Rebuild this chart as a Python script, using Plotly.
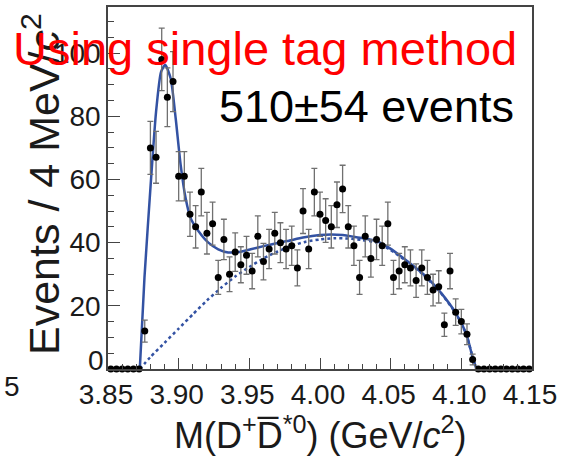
import plotly.graph_objects as go

# ---- data ----
bin_centers = [round(3.852 + 0.004 * i, 3) for i in range(75)]
counts = [0, 0, 0, 0, 0, 0,
          12, 70, 67, 98, 86, 91, 61, 61, 49, 45, 56, 43, 46, 29, 41, 30, 37, 33, 36, 31,
          42, 34, 38, 43, 40, 38, 39, 32, 50, 38, 56, 49, 47, 45, 52, 57, 45, 39, 29, 42,
          35, 41, 39, 46, 29, 31, 33, 32, 28, 32, 29, 25, 26, 14, 31, 18, 15, 11, 3,
          0, 0, 0, 0, 0, 0, 0, 0, 0, 0]
errors = [0, 0, 0, 0, 0, 0,
          3.5, 8.4, 8.2, 9.9, 9.3, 9.5, 7.8, 7.8, 7.0, 6.7, 7.5, 6.6, 6.8, 5.4, 6.4, 5.5, 6.1, 5.7, 6.0, 5.6,
          6.5, 5.8, 6.2, 6.6, 6.3, 6.2, 6.2, 5.7, 7.1, 6.2, 7.5, 7.0, 6.9, 6.7, 7.2, 7.5, 6.7, 6.2, 5.4, 6.5,
          5.9, 6.4, 6.2, 6.8, 5.4, 5.6, 5.7, 5.7, 5.3, 5.7, 5.4, 5.0, 5.1, 3.7, 5.6, 4.2, 3.9, 3.3, 1.7,
          0, 0, 0, 0, 0, 0, 0, 0, 0, 0]

fit_x = [3.8725, 3.8758, 3.8805, 3.8840, 3.8875, 3.8905, 3.8944, 3.8979, 3.9014, 3.9049,
         3.9084, 3.9142, 3.9210, 3.9280, 3.9350, 3.9420, 3.9510, 3.9600, 3.9700, 3.9770,
         3.9880, 4.0000, 4.0080, 4.0160, 4.0258, 4.0400, 4.0495, 4.0616, 4.0732, 4.0849,
         4.0965, 4.1035, 4.1080, 4.1107]
fit_y = [0, 28.9, 60.4, 81.4, 94.0, 96.3, 91.9, 79.3, 64.6, 54.1,
         47.8, 43.5, 40.0, 37.9, 36.9, 37.0, 37.9, 38.9, 39.9, 40.5,
         41.6, 42.4, 42.6, 42.4, 41.7, 40.5, 38.2, 34.2, 30.0, 24.5,
         17.4, 11.1, 3.7, 0]

bkg_x = [3.8725, 3.88, 3.89, 3.90, 3.91, 3.92, 3.93, 3.94, 3.95, 3.96, 3.97, 3.98, 3.99,
         4.00, 4.01, 4.02, 4.03, 4.04, 4.0495, 4.0616, 4.0732, 4.0849, 4.0965, 4.1035,
         4.1080, 4.1107]
bkg_y = [0, 3.8, 8.3, 12.8, 17.3, 21.7, 25.7, 29.3, 32.3, 35.0, 37.2, 39.0, 40.3,
         41.0, 41.4, 41.3, 40.8, 40.0, 37.8, 34.0, 29.8, 24.4, 17.3, 11.0,
         3.7, 0]

x_tick_vals = [3.85, 3.90, 3.95, 4.00, 4.05, 4.10, 4.15]
x_tick_text = ["3.85", "3.90", "3.95", "4.00", "4.05", "4.10", "4.15"]
y_tick_vals = [20, 40, 60, 80, 100]
y_tick_text = ["20", "40", "60", "80", "100"]
y_zero_label = "0"

# ---- layout geometry (pixels) ----
W, H = 562, 456
L, R, T, B = 108, 24, 5, 87
PW, PH = W - L - R, H - T - B

def px_x(p):
    return (p - L) / PW

def px_y(p):
    return (H - B - p) / PH

FONT = "Liberation Sans, Arial, Helvetica, sans-serif"
BLUE = "#3352a3"

fig = go.Figure()
fig.add_trace(go.Scatter(x=bkg_x, y=bkg_y, mode="lines",
                         line=dict(color=BLUE, width=2.5, dash="dot", shape="spline", smoothing=0.6),
                         hoverinfo="skip"))
fig.add_trace(go.Scatter(x=fit_x, y=fit_y, mode="lines",
                         line=dict(color=BLUE, width=2.5, shape="spline", smoothing=0.6),
                         hoverinfo="skip"))
fig.add_trace(go.Scatter(x=bin_centers, y=counts, mode="markers",
                         marker=dict(color="black", size=7),
                         error_y=dict(type="data", array=errors, color="#707070", thickness=1.3, width=3),
                         cliponaxis=False))

axis_common = dict(showline=True, linecolor="#444", linewidth=1.5, mirror=True,
                   ticks="inside", tickcolor="#444", showgrid=False, zeroline=False,
                   tickfont=dict(family=FONT, size=28, color="#1a1a1a"))

fig.update_xaxes(range=[3.85, 4.15], tickvals=x_tick_vals, ticktext=x_tick_text,
                 ticklen=11, tickwidth=1.3, ticklabeloverflow="allow", ticklabelshift=-2,
                 minor=dict(dtick=0.01, tick0=3.85, ticks="inside", ticklen=5, tickcolor="#444", tickwidth=1.2),
                 **axis_common)
fig.update_yaxes(range=[0, 114.6], tickvals=y_tick_vals, ticktext=y_tick_text,
                 ticklen=12, tickwidth=1.3, ticklabelstandoff=0,
                 minor=dict(dtick=5, tick0=0, ticks="inside", ticklen=6, tickcolor="#444", tickwidth=1.2),
                 **axis_common)

annotations = [
    dict(text=y_zero_label, x=px_x(106), y=px_y(360), xref="paper", yref="paper",
         xanchor="right", yanchor="middle", showarrow=False,
         font=dict(family=FONT, size=28, color="#1a1a1a")),
    dict(text="Events / 4 MeV/<i>c</i><sup>2</sup>", textangle=-90,
         x=px_x(40), y=px_y(183), xref="paper", yref="paper",
         xanchor="center", yanchor="middle", showarrow=False,
         font=dict(family=FONT, size=43, color="#1a1a1a")),
    dict(text="M(D<sup>+</sup>D\u0305<sup>*0</sup>) (GeV/<i>c</i><sup>2</sup>)",
         x=px_x(324), y=px_y(433), xref="paper", yref="paper",
         xanchor="center", yanchor="middle", showarrow=False,
         font=dict(family=FONT, size=36, color="#1a1a1a")),
    dict(text="5", x=px_x(11), y=px_y(387), xref="paper", yref="paper",
         xanchor="center", yanchor="middle", showarrow=False,
         font=dict(family=FONT, size=28, color="#1a1a1a")),
    dict(text="510\u00b154 events", x=px_x(522), y=px_y(105.5), xref="paper", yref="paper",
         xanchor="right", yanchor="middle", showarrow=False,
         font=dict(family=FONT, size=45, color="black")),
    dict(text="Using single tag method", x=px_x(267), y=px_y(47), xref="paper", yref="paper",
         xanchor="center", yanchor="middle", showarrow=False,
         font=dict(family=FONT, size=47, color="#ff0000")),
]

fig.update_layout(width=W, height=H, margin=dict(l=L, r=R, t=T, b=B),
                  plot_bgcolor="white", paper_bgcolor="white", showlegend=False,
                  annotations=annotations)

fig.write_html("out.html")
